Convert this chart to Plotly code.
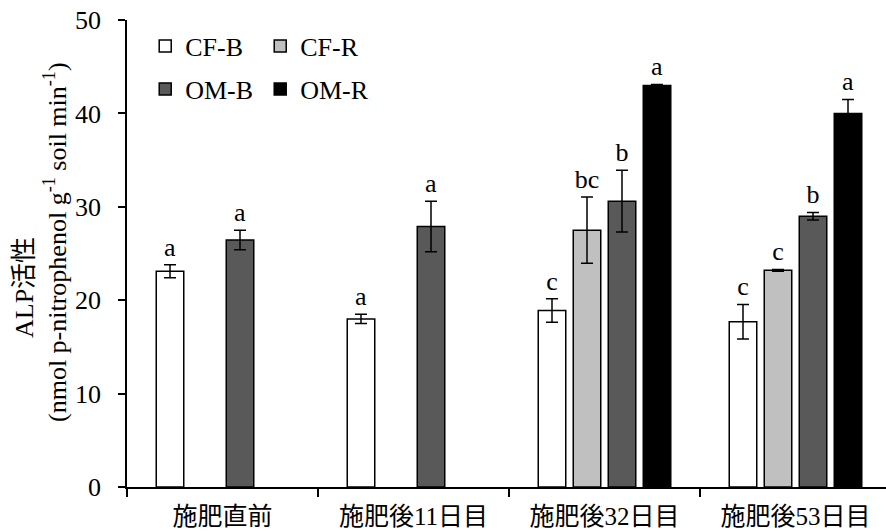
import plotly.graph_objects as go

groups = ["施肥直前", "施肥後11日目", "施肥後32日目", "施肥後53日目"]

cfb = [23.1, 18.0, 18.9, 17.7]
cfb_err = [0.7, 0.5, 1.25, 1.85]
cfb_lab = ["a", "a", "c", "c"]

cfr = [None, None, 27.5, 23.2]
cfr_err = [None, None, 3.55, 0.1]
cfr_lab = ["", "", "bc", "c"]

omb = [26.45, 27.9, 30.6, 29.0]
omb_err = [1.05, 2.7, 3.3, 0.4]
omb_lab = ["a", "a", "b", "b"]

omr = [None, None, 43.0, 40.0]
omr_err = [None, None, 0.1, 1.5]
omr_lab = ["", "", "a", "a"]

FONT = "Liberation Serif, Times New Roman, Noto Sans CJK JP, serif"
FS = 26

series = [
    ("CF-B", cfb, cfb_err, cfb_lab, "#ffffff", "legend"),
    ("CF-R", cfr, cfr_err, cfr_lab, "#c0c0c0", "legend"),
    ("OM-B", omb, omb_err, omb_lab, "#595959", "legend2"),
    ("OM-R", omr, omr_err, omr_lab, "#000000", "legend2"),
]

fig = go.Figure()
for i, (name, vals, errs, labs, col, leg) in enumerate(series):
    fig.add_trace(go.Bar(
        x=groups, y=vals, name=name, offsetgroup=str(i), legend=leg,
        marker=dict(color=col, line=dict(color="#000000", width=1.5)),
        error_y=dict(type="data", array=errs, visible=True,
                     color="#000000", thickness=1.5, width=6),
        hoverinfo="skip",
    ))
    tops = [None if v is None else v + e for v, e in zip(vals, errs)]
    fig.add_trace(go.Bar(
        x=groups, y=tops, offsetgroup=str(i), showlegend=False,
        marker=dict(color="rgba(0,0,0,0)", line=dict(width=0)),
        text=labs, textposition="outside", constraintext="none",
        textfont=dict(family=FONT, size=FS, color="#000000"),
        cliponaxis=False, hoverinfo="skip",
    ))

fig.update_layout(
    width=886, height=531,
    margin=dict(l=127, r=0, t=20, b=44),
    paper_bgcolor="#ffffff", plot_bgcolor="#ffffff",
    barmode="group", bargap=0.267, bargroupgap=0.214,
    font=dict(family=FONT, size=FS, color="#000000"),
    showlegend=True,
    legend=dict(orientation="h", x=0.024, xanchor="left", y=0.944, yanchor="middle",
                entrywidth=70, entrywidthmode="pixels",
                font=dict(family=FONT, size=FS), bgcolor="rgba(0,0,0,0)"),
    legend2=dict(orientation="h", x=0.024, xanchor="left", y=0.852, yanchor="middle",
                 entrywidth=70, entrywidthmode="pixels",
                 font=dict(family=FONT, size=FS), bgcolor="rgba(0,0,0,0)"),
    xaxis=dict(
        type="category", range=[-0.5, 3.5 - 5 / 191], automargin=False,
        showline=True, linecolor="#000000", linewidth=1.5,
        ticks="outside", tickson="boundaries", ticklen=8, tickwidth=1.5, tickcolor="#000000",
        showgrid=False, zeroline=False, ticklabelstandoff=6,
        tickfont=dict(family=FONT, size=25),
    ),
    yaxis=dict(
        range=[0, 50], dtick=10, tick0=0, automargin=False,
        showline=True, linecolor="#000000", linewidth=1.5,
        ticks="outside", ticklen=7, tickwidth=1.5, tickcolor="#000000",
        showgrid=False, zeroline=False, ticklabelstandoff=12,
        tickfont=dict(family=FONT, size=FS),
    ),
    annotations=[
        dict(text="ALP活性", textangle=-90, xref="paper", yref="paper",
             x=(24 - 127) / 759, y=(487 - 287) / 467, xanchor="center", yanchor="middle",
             showarrow=False, font=dict(family=FONT, size=FS)),
        dict(text="(nmol p-nitrophenol g<sup>-1</sup> soil min<sup>-1</sup>)", textangle=-90,
             xref="paper", yref="paper",
             x=(55 - 127) / 759, y=(487 - 242) / 467, xanchor="center", yanchor="middle",
             showarrow=False, font=dict(family=FONT, size=FS)),
    ],
)

fig.write_html("out.html")
